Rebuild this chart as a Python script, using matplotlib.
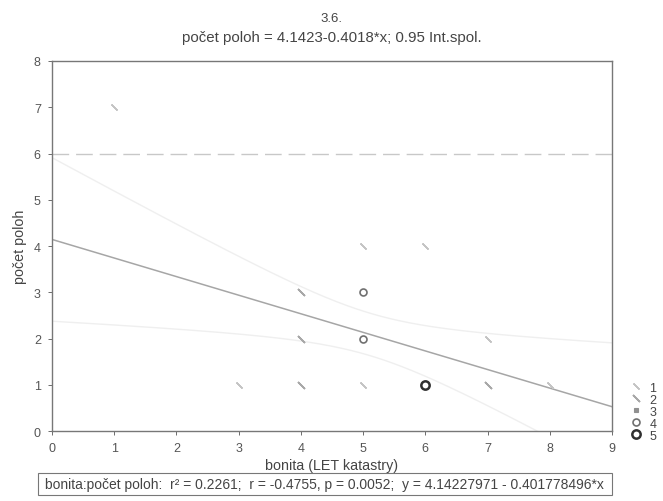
import matplotlib.pyplot as plt
from matplotlib.lines import Line2D
from matplotlib.patches import Rectangle
import numpy as np

plt.rcParams['font.family'] = ['Liberation Sans', 'DejaVu Sans']

bonita = [1, 3, 4, 4, 4, 5, 5, 5, 5, 6, 6, 7, 7, 8]
poloh = [7, 1, 3, 2, 1, 4, 3, 2, 1, 4, 1, 2, 1, 1]
counts = [1, 1, 2, 2, 2, 1, 4, 4, 1, 1, 5, 1, 2, 1]

# fit as printed under the chart
intercept = 4.14227971
slope = -0.401778496
r2 = 0.2261
r_val = -0.4755
p_val = 0.0052

x_ticks = list(range(0, 10))
y_ticks = list(range(0, 9))

# marker style per frequency (1..5)
freq_styles = {
    1: dict(marker=(2, 2, 45), color='#c4c4c4', ms=6, mew=1.0, mfc='none'),
    2: dict(marker=(2, 2, 45), color='#a8a8a8', ms=7, mew=1.2, mfc='none'),
    3: dict(marker='s', color='#909090', ms=3.5, mew=0.8, mfc='#909090'),
    4: dict(marker='o', color='#707070', ms=5, mew=1.2, mfc='none'),
    5: dict(marker='o', color='#303030', ms=6, mew=1.8, mfc='none'),
}

fig = plt.figure(figsize=(6.63, 5.02), dpi=100)
ax = fig.add_axes([0.0784, 0.1394, 0.8446, 0.7371])

xs = np.array(bonita, dtype=float)
ys = np.array(poloh, dtype=float)
ws = np.array(counts, dtype=float)

# confidence band (0.95) around the printed line
n = ws.sum()
mx = (xs * ws).sum() / n
resid = ys - (intercept + slope * xs)
s = np.sqrt((ws * resid ** 2).sum() / (n - 2))
sxx = (ws * (xs - mx) ** 2).sum()
xx = np.linspace(0, 9, 200)
yy = intercept + slope * xx
se = s * np.sqrt(1 / n + (xx - mx) ** 2 / sxx)
ax.plot(xx, yy + 2.05 * se, color='#efefef', lw=1.0)
ax.plot(xx, yy - 2.05 * se, color='#efefef', lw=1.0)

ax.axhline(6, color='#c8c8c8', lw=1.0, ls=(0, (12, 5)))

ax.plot(xx, yy, color='#a6a6a6', lw=1.1)

for x, y, c in zip(bonita, poloh, counts):
    st = freq_styles[c]
    ax.plot([x], [y], ls='none', marker=st['marker'], color=st['color'],
            ms=st['ms'], mew=st['mew'], mfc=st['mfc'], clip_on=False, zorder=3)

ax.set_xlim(0, 9)
ax.set_ylim(0, 8)
ax.set_xticks(x_ticks)
ax.set_yticks(y_ticks)
ax.tick_params(labelsize=9, colors='#555555', length=3, width=0.6, pad=5)
for sp in ax.spines.values():
    sp.set_color('#777777')
    sp.set_linewidth(1.0)

ax.set_xlabel('bonita (LET katastry)', fontsize=10.3, color='#444444', labelpad=3)
ax.set_ylabel('počet poloh', fontsize=10.3, color='#444444', labelpad=5)

fig.text(0.5, 0.963, '3.6.', ha='center', va='center', fontsize=9.5, color='#444444')
fig.text(0.5, 0.925, 'počet poloh = 4.1423-0.4018*x; 0.95 Int.spol.', ha='center',
         va='center', fontsize=10.8, color='#444444')

handles = []
for k in sorted(freq_styles):
    st = freq_styles[k]
    handles.append(Line2D([], [], ls='none', marker=st['marker'], color=st['color'],
                          ms=st['ms'], mew=st['mew'], mfc=st['mfc'], label=str(k)))
fig.legend(handles=handles, loc='upper left', bbox_to_anchor=(0.942, 0.25),
           frameon=False, fontsize=9, handlelength=0.8, handletextpad=0.7,
           labelspacing=0.0, borderpad=0, labelcolor='#444444')

fig.patches.append(Rectangle((0.058, 0.012), 0.865, 0.044, transform=fig.transFigure,
                             fc='white', ec='#777777', lw=0.8))
stats = (f'bonita:počet poloh:  r² = {r2:.4f};  r = {r_val:.4f}, p = {p_val:.4f};  '
         f'y = {intercept:.8f} - {abs(slope):.9f}*x')
fig.text(0.068, 0.034, stats, ha='left', va='center', fontsize=10, color='#444444')

fig.savefig('out.png', dpi=100)
